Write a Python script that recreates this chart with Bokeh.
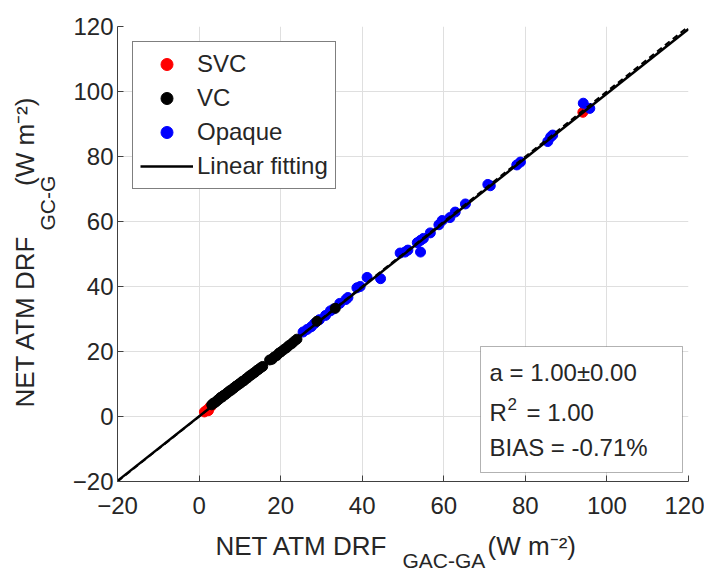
import math
from bokeh.plotting import figure
from bokeh.models import (Range1d, Legend, LegendItem, Label, BoxAnnotation,
                          FixedTicker, Title)
from bokeh.embed import file_html
from bokeh.resources import INLINE

# ---------------- data ----------------
svc_x = [1.3, 1.8, 2.3, 2.6, 3.0, 94.1]
svc_y = [1.4, 1.9, 1.8, 2.9, 3.2, 93.6]

vc_x = [3.1, 3.5, 3.9, 4.2, 4.6, 4.9, 5.3, 5.7, 6.0, 6.4, 6.8, 7.1, 7.5, 7.9,
        8.3, 8.6, 9.0, 9.4, 9.8, 10.2, 10.6, 11.0, 11.5, 11.9, 12.4, 12.8,
        13.3, 13.7, 14.2, 14.6, 15.1, 15.6, 17.3, 17.9, 18.4, 19.0, 19.6,
        20.1, 20.8, 21.4, 22.0, 22.7, 23.3, 24.0, 28.9, 33.4]
vc_y = [3.6, 4.1, 4.3, 4.6, 5.1, 5.3, 5.9, 6.0, 6.5, 6.7, 7.2, 7.4, 7.9, 8.1,
        8.6, 8.8, 9.3, 9.6, 10.0, 10.3, 10.8, 11.0, 11.6, 11.9, 12.5, 12.8,
        13.3, 13.6, 14.2, 14.5, 15.0, 15.4, 17.4, 17.6, 18.3, 18.7, 19.5,
        19.9, 20.6, 21.1, 21.8, 22.4, 23.1, 23.8, 29.3, 33.3]

opq_x = [25.5, 26.5, 27.5, 28.3, 29.5, 31.0, 32.2, 33.0, 34.5, 36.0, 36.5,
         38.7, 39.5, 41.2, 44.5, 49.3, 50.5, 51.2, 53.5, 54.3, 54.3, 55.0,
         56.7, 58.8, 59.6, 61.5, 62.8, 65.3, 70.8, 71.4, 77.9, 78.8, 85.5,
         86.2, 86.7, 94.2, 95.8]
opq_y = [26.0, 26.8, 27.6, 28.6, 29.8, 31.1, 32.5, 33.1, 34.8, 36.0, 36.6,
         39.6, 40.0, 42.8, 42.4, 50.3, 50.6, 51.2, 53.5, 54.2, 50.6, 54.8,
         56.5, 59.0, 60.3, 61.2, 62.9, 65.4, 71.4, 71.0, 77.4, 78.3, 84.6,
         86.0, 86.6, 96.4, 94.8]

fit_slope = 0.993
fit_intercept = 0.05

ticks = [-20, 0, 20, 40, 60, 80, 100, 120]
x_min, x_max = -20, 120
y_min, y_max = -20, 120

NB = "\u00a0"
xlabel_main = "NET ATM DRF" + NB * 14 + "(W m\u207b\u00b2)"
xlabel_sub = "GAC-GA"
ylabel_main = "NET ATM DRF" + NB * 7 + "(W m\u207b\u00b2)"
ylabel_sub = "GC-G"

# ---------------- layout ----------------
W, H = 704, 572
BL, BT = 117, 26
FW, FH = 571, 455
BR = W - BL - FW
BB = H - BT - FH
FONT = "Liberation Sans"
FL, FT = BL, BT


def dx(px):
    # page pixel -> data x
    return x_min + (px - FL) * (x_max - x_min) / FW


def dy(py):
    return y_max - (py - FT) * (y_max - y_min) / FH


p = figure(width=W, height=H, x_range=Range1d(x_min, x_max),
           y_range=Range1d(y_min, y_max), output_backend="svg",
           toolbar_location=None, min_border_left=BL, min_border_right=BR,
           min_border_top=BT, min_border_bottom=BB)
p.outline_line_color = None

for ax in (p.xaxis[0], p.yaxis[0]):
    ax.ticker = FixedTicker(ticks=ticks)
    ax.major_tick_in = 6
    ax.major_tick_out = 0
    ax.minor_tick_line_color = None
    ax.axis_line_color = "#404040"
    ax.major_tick_line_color = "#404040"
    ax.major_label_text_font = FONT
    ax.major_label_text_font_size = "24px"
    ax.major_label_text_color = "#262626"
p.xaxis[0].major_label_standoff = 15
p.yaxis[0].major_label_standoff = 4

p.xgrid.ticker = FixedTicker(ticks=ticks)
p.ygrid.ticker = FixedTicker(ticks=ticks)
p.grid.grid_line_color = "#dfdfdf"
p.grid.grid_line_width = 1

r_svc = p.scatter(svc_x, svc_y, size=10, color="#ff0000")
r_opq = p.scatter(opq_x, opq_y, size=10, color="#0000ff")
r_vc = p.scatter(vc_x, vc_y, size=10, color="#000000")

line_x = [x_min, x_max]
r_one = p.line(line_x, line_x, line_color="black", line_width=2,
               line_dash="6 4")
r_fit = p.line(line_x, [fit_slope * v + fit_intercept for v in line_x],
               line_color="black", line_width=2.5)

legend = Legend(items=[LegendItem(label="SVC", renderers=[r_svc]),
                       LegendItem(label="VC", renderers=[r_vc]),
                       LegendItem(label="Opaque", renderers=[r_opq]),
                       LegendItem(label="Linear fitting", renderers=[r_fit])],
                location=(15, 292), margin=0, padding=7, spacing=4,
                label_height=30, glyph_height=30, glyph_width=53,
                label_standoff=4, label_text_font=FONT,
                label_text_font_size="24px", label_text_color="#262626",
                border_line_color="black", border_line_width=1,
                background_fill_color="white", background_fill_alpha=1)
p.add_layout(legend)

# annotation box
p.add_layout(BoxAnnotation(left=dx(480), right=dx(682), top=dy(346),
                           bottom=dy(472), fill_color="white", fill_alpha=1,
                           line_color="black", line_width=1))


def lab(text, px, py, size):
    p.add_layout(Label(x=dx(px), y=dy(py), text=text, text_font=FONT,
                       text_font_size=size, text_color="#262626",
                       text_baseline="middle", text_align="left"))


lab("a = 1.00\u00b10.00", 489, 372, "24px")
lab("R", 489, 412, "24px")
lab("2", 507, 403, "17px")
lab("= 1.00", 526, 412, "24px")
lab("BIAS = -0.71%", 489, 447, "24px")


def title(text, size, offset, standoff, valign):
    return Title(text=text, align="left", offset=offset, standoff=standoff,
                 vertical_align=valign, text_font=FONT, text_font_size=size,
                 text_font_style="normal", text_color="#262626")


# x axis label: main row, then subscript row
p.add_layout(title(xlabel_main, "26px", 98, 24, "bottom"), "below")
p.add_layout(title(xlabel_sub, "21px", 285, -48, "top"), "below")

# y axis label: subscript row next to axis, then main row
p.add_layout(title(ylabel_sub, "21px", 251, 22, "bottom"), "left")
p.add_layout(title(ylabel_main, "26px", 74, -34, "bottom"), "left")

open("out.html", "w").write(file_html(p, INLINE))
